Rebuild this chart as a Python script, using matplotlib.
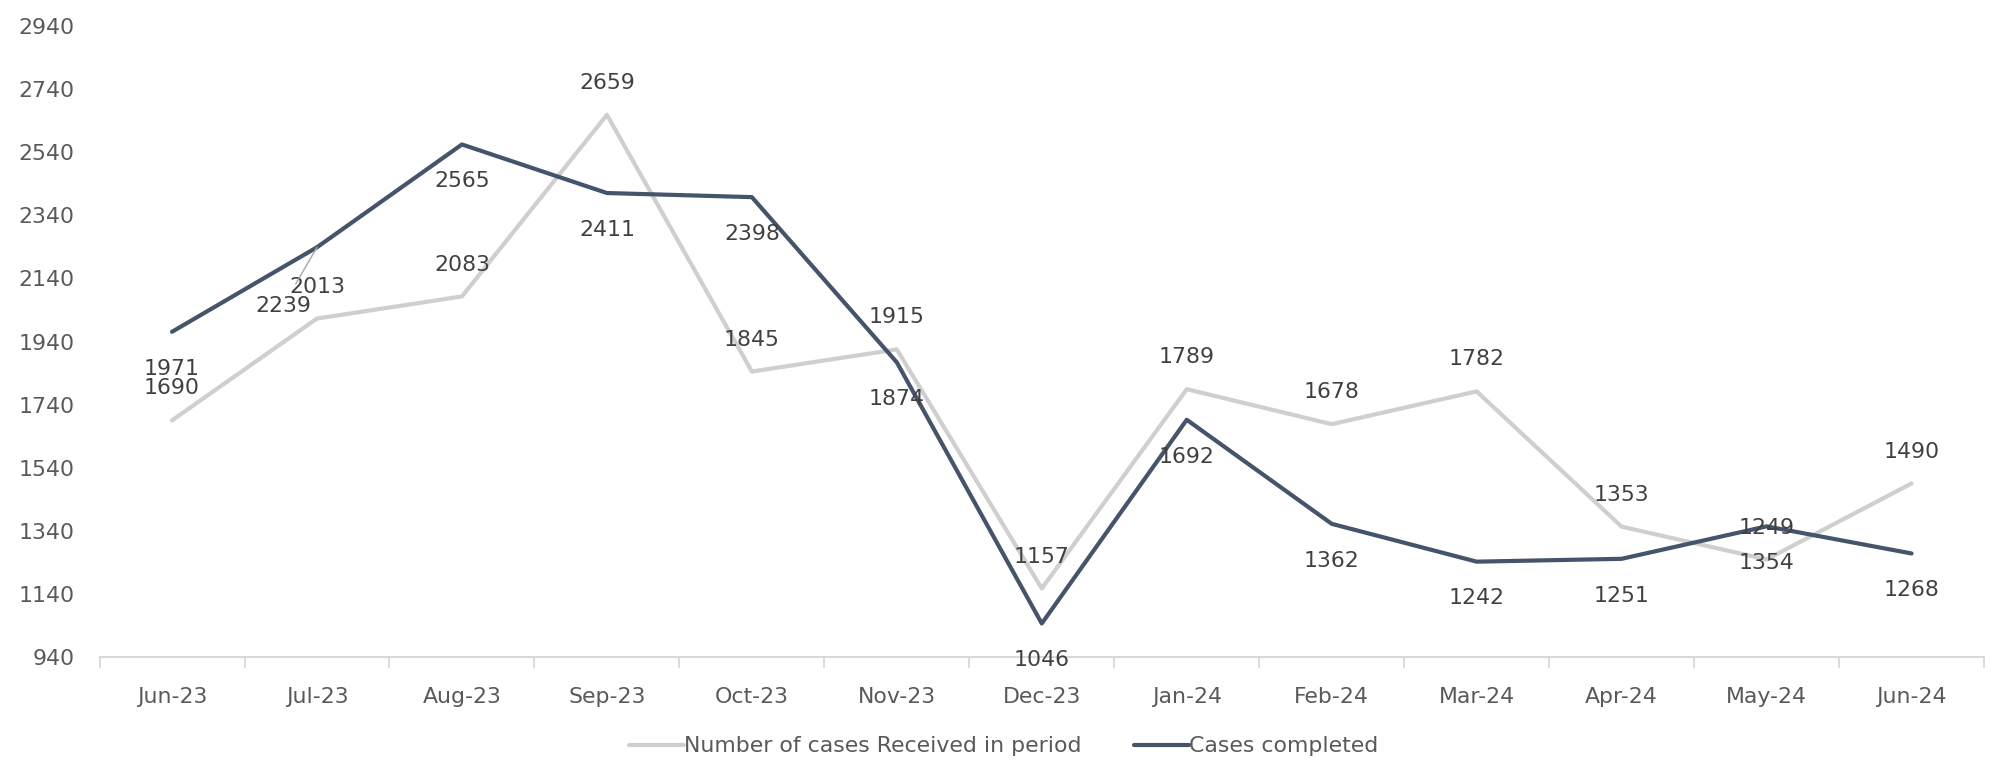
import matplotlib
matplotlib.use("Agg")
import matplotlib.pyplot as plt
import numpy as np

months = ["Jun-23", "Jul-23", "Aug-23", "Sep-23", "Oct-23", "Nov-23", "Dec-23",
          "Jan-24", "Feb-24", "Mar-24", "Apr-24", "May-24", "Jun-24"]
received = [1690, 2013, 2083, 2659, 1845, 1915, 1157, 1789, 1678, 1782, 1353, 1249, 1490]
completed = [1971, 2239, 2565, 2411, 2398, 1874, 1046, 1692, 1362, 1242, 1251, 1354, 1268]
y_ticks = [940, 1140, 1340, 1540, 1740, 1940, 2140, 2340, 2540, 2740, 2940]

GRAY = "#D0CECE"
DARK = "#44546A"
FS = 15.8
plt.rcParams["font.family"] = ["DejaVu Sans"]

fig = plt.figure(figsize=(19.99, 7.71), dpi=100)
ax = fig.add_axes([0.0498, 0.148, 0.9427, 0.818])

x = np.arange(len(months))
ax.plot(x, received, color=GRAY, lw=3.0, solid_capstyle="round", solid_joinstyle="round",
        label="Number of cases Received in period", zorder=2)
ax.plot(x, completed, color=DARK, lw=3.0, solid_capstyle="round", solid_joinstyle="round",
        label="Cases completed", zorder=3)

# data labels: received above, completed below (Excel style)
for i, v in enumerate(received):
    ax.annotate(f"{v}", (x[i], v), xytext=(0, 23), textcoords="offset points",
                ha="center", va="center", fontsize=FS, color="#404040", zorder=5)
for i, v in enumerate(completed):
    if i == 1:
        # this one was dragged off the point, with a leader line
        ax.annotate(f"{v}", (x[i], v), xytext=(-24.5, -42.5), textcoords="offset points",
                    ha="center", va="center", fontsize=FS, color="#404040", zorder=5,
                    arrowprops=dict(arrowstyle="-", color="#A6A6A6", lw=1,
                                    relpos=(0.6, 1.0), shrinkA=8, shrinkB=0))
        continue
    ax.annotate(f"{v}", (x[i], v), xytext=(0, -26.5), textcoords="offset points",
                ha="center", va="center", fontsize=FS, color="#404040", zorder=5)

ax.set_xlim(-0.5, len(months) - 0.5)
ax.set_ylim(940, 2940)
ax.set_yticks(y_ticks)
ax.set_xticks(x)
ax.set_xticklabels(months)
ax.set_xticks(np.arange(-0.5, len(months)), minor=True)
ax.tick_params(axis="x", which="major", length=0, pad=22, labelsize=FS, labelcolor="#595959")
ax.tick_params(axis="x", which="minor", length=8, width=1.3, color="#D9D9D9")
ax.tick_params(axis="y", length=0, pad=18, labelsize=FS, labelcolor="#595959")

for s in ["top", "right", "left"]:
    ax.spines[s].set_visible(False)
ax.spines["bottom"].set_color("#D9D9D9")
ax.spines["bottom"].set_linewidth(1.5)

leg = fig.legend(loc="center", bbox_to_anchor=(0.502, 0.032), ncol=2, frameon=False,
                 fontsize=FS, handlelength=2.5, handletextpad=0.0, columnspacing=2.4)
for t in leg.get_texts():
    t.set_color("#595959")

fig.savefig("out.png", dpi=100)
